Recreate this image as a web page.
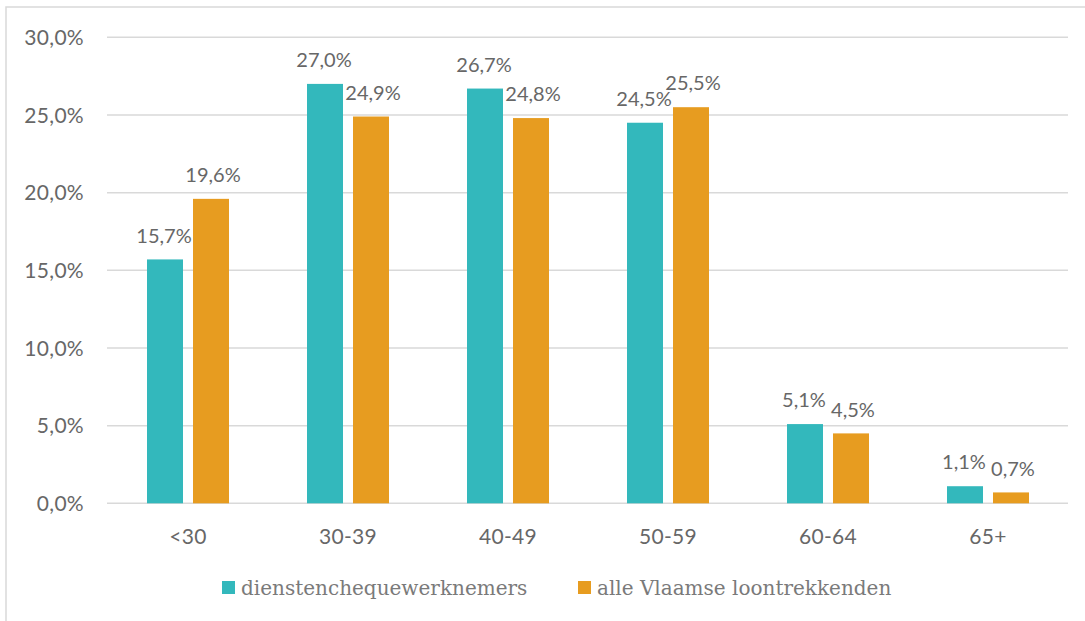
<!DOCTYPE html>
<html>
<head>
<meta charset="utf-8">
<script src="https://cdn.jsdelivr.net/npm/d3@7"></script>
<style>
  body { margin: 0; background: #fff; }
  svg { display: block; }
</style>
</head>
<body>
<div id="chart"></div>
<script>
const categories = ["<30", "30-39", "40-49", "50-59", "60-64", "65+"];
const seriesNames = ["dienstenchequewerknemers", "alle Vlaamse loontrekkenden"];
const dienstencheque = [15.7, 27.0, 26.7, 24.5, 5.1, 1.1];
const vlaamse = [19.6, 24.9, 24.8, 25.5, 4.5, 0.7];
const yTicks = [0, 5, 10, 15, 20, 25, 30];
const colors = ["#33B8BC", "#E79C20"];

const data = categories.map((c, i) => ({
  cat: c,
  values: [dienstencheque[i], vlaamse[i]],
}));

const width = 1085;
const height = 621;
const margin = { top: 37.3, left: 108, right: 17, bottom: 621 - 503.3 };

const svg = d3
  .select("#chart")
  .append("svg")
  .attr("width", width)
  .attr("height", height);

// outer frame (top and left edges visible)
svg
  .append("path")
  .attr("d", `M6,${height} V7 H${width}`)
  .attr("fill", "none")
  .attr("stroke", "#d9d9d9")
  .attr("stroke-width", 1.5);

const x = d3
  .scaleBand()
  .domain(categories)
  .range([margin.left, width - margin.right]);

const x1 = d3
  .scaleBand()
  .domain([0, 1])
  .range([x.bandwidth() / 2 - 41, x.bandwidth() / 2 + 41])
  .paddingInner(10 / 46);

const y = d3
  .scaleLinear()
  .domain([0, 30])
  .range([height - margin.bottom, margin.top]);

const fmt = (v) => v.toFixed(1).replace(".", ",") + "%";

const labelFont = (sel) =>
  sel
    .style("font-family", "Lato, sans-serif")
    .style("font-size", "21px")
    .style("letter-spacing", "0.3px")
    .attr("fill", "#676767");

// gridlines
svg
  .append("g")
  .selectAll("line")
  .data(yTicks)
  .join("line")
  .attr("x1", margin.left - 1)
  .attr("x2", width - margin.right)
  .attr("y1", (d) => y(d))
  .attr("y2", (d) => y(d))
  .attr("stroke", "#d9d9d9")
  .attr("stroke-width", 1.5);

// y labels
svg
  .append("g")
  .selectAll("text")
  .data(yTicks)
  .join("text")
  .attr("x", 84)
  .attr("y", (d) => y(d))
  .attr("dy", "0.36em")
  .attr("text-anchor", "end")
  .call(labelFont)
  .text((d) => fmt(d));

// bars
const groups = svg
  .append("g")
  .selectAll("g")
  .data(data)
  .join("g")
  .attr("transform", (d) => `translate(${x(d.cat)},0)`);

groups
  .selectAll("rect")
  .data((d) => d.values.map((v, i) => ({ v, i })))
  .join("rect")
  .attr("x", (d) => x1(d.i))
  .attr("y", (d) => y(d.v))
  .attr("width", x1.bandwidth())
  .attr("height", (d) => y(0) - y(d.v))
  .attr("fill", (d) => colors[d.i]);

groups
  .selectAll("text")
  .data((d) => d.values.map((v, i) => ({ v, i })))
  .join("text")
  .attr("x", (d) => x1(d.i) + x1.bandwidth() / 2 + (d.i === 0 ? -1 : 2))
  .attr("y", (d) => y(d.v) - 24)
  .attr("dy", "0.36em")
  .attr("text-anchor", "middle")
  .call(labelFont)
  .style("font-size", "20px")
  .style("letter-spacing", "0px")
  .text((d) => fmt(d.v));

// category labels
svg
  .append("g")
  .selectAll("text")
  .data(categories)
  .join("text")
  .attr("x", (d) => x(d) + x.bandwidth() / 2)
  .attr("y", 536)
  .attr("dy", "0.36em")
  .attr("text-anchor", "middle")
  .call(labelFont)
  .text((d) => d);

// legend
const legendX = [222, 578];
const legend = svg
  .append("g")
  .selectAll("g")
  .data(seriesNames)
  .join("g")
  .attr("transform", (d, i) => `translate(${legendX[i]},581)`);

legend
  .append("rect")
  .attr("width", 13)
  .attr("height", 13)
  .attr("fill", (d, i) => colors[i]);

legend
  .append("text")
  .attr("x", 19)
  .attr("y", 7)
  .attr("dy", "0.36em")
  .style("font-family", "'DejaVu Serif', serif")
  .style("font-size", "20px")
  .attr("fill", "#7a7a7a")
  .text((d) => d);
</script>
</body>
</html>
